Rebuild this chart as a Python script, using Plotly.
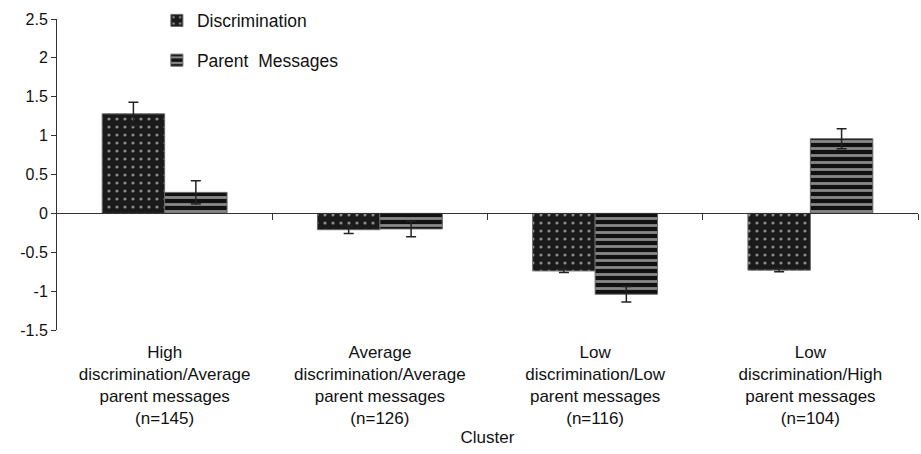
import plotly.graph_objects as go

categories = [
    "High<br>discrimination/Average<br>parent messages<br>(n=145)",
    "Average<br>discrimination/Average<br>parent messages<br>(n=126)",
    "Low<br>discrimination/Low<br>parent messages<br>(n=116)",
    "Low<br>discrimination/High<br>parent messages<br>(n=104)",
]
discrimination = [1.28, -0.21, -0.74, -0.73]
discrimination_err = [0.15, 0.05, 0.02, 0.02]
parent_messages = [0.27, -0.20, -1.04, 0.96]
parent_messages_err = [0.15, 0.10, 0.10, 0.13]
y_ticks = [-1.5, -1, -0.5, 0, 0.5, 1, 1.5, 2, 2.5]
y_ticktext = ["-1.5", "-1", "-0.5", "0", "0.5", "1", "1.5", "2", "2.5"]

FONT = "Liberation Sans, Arial, sans-serif"
n = len(categories)

fig = go.Figure()
fig.add_trace(go.Bar(
    name="Discrimination", x=categories, y=discrimination,
    legendgroup="a",
    marker=dict(color="#1a1a1a",
                line=dict(color="#666666", width=1),
                pattern=dict(shape=".", bgcolor="#1a1a1a", fgcolor="white",
                             size=8, solidity=0.12)),
    error_y=dict(type="data", array=discrimination_err, color="#222222",
                 thickness=1.5, width=5),
))
fig.add_trace(go.Bar(
    name="Parent  Messages", x=categories, y=parent_messages,
    legendgroup="b",
    marker=dict(color="#111111",
                line=dict(color="#666666", width=1),
                pattern=dict(shape="-", bgcolor="#111111", fgcolor="white",
                             size=7, solidity=0.4)),
    error_y=dict(type="data", array=parent_messages_err, color="#222222",
                 thickness=1.5, width=5),
))
# invisible trace for the axis that crosses at zero
fig.add_trace(go.Scatter(x=[-0.5, n - 0.5], y=[0, 0], xaxis="x2", mode="lines",
                         line=dict(width=0), showlegend=False, hoverinfo="skip"))

ymin, ymax = -1.5, 2.5
fig.update_layout(
    width=921, height=454,
    paper_bgcolor="white", plot_bgcolor="white",
    margin=dict(l=57, r=3, t=19, b=124, autoexpand=False),
    barmode="group", bargap=0.42, bargroupgap=0,
    font=dict(family=FONT, size=17, color="#111111"),
    showlegend=True,
    legend=dict(x=0.116, y=1.053, xanchor="left", yanchor="top",
                bgcolor="rgba(0,0,0,0)", font=dict(size=17.5),
                traceorder="grouped", tracegroupgap=14),
    xaxis=dict(range=[-0.5, n - 0.5], showline=False, ticks="",
               showgrid=False, tickfont=dict(size=17), automargin=False,
               ticklabelstandoff=10,
               title=dict(text="Cluster", font=dict(size=17), standoff=2)),
    xaxis2=dict(overlaying="x", anchor="free",
                position=(0 - ymin) / (ymax - ymin),
                range=[-0.5, n - 0.5], showline=True, linecolor="#333333",
                linewidth=1, ticks="outside", ticklen=6, tickcolor="#333333",
                tickvals=[i + 0.5 for i in range(n)], showticklabels=False,
                showgrid=False, zeroline=False),
    yaxis=dict(range=[ymin, ymax], tickvals=y_ticks, ticktext=y_ticktext,
               showline=True, linecolor="#333333", linewidth=1,
               ticks="outside", ticklen=5, tickcolor="#333333",
               showgrid=False, zeroline=False, tickfont=dict(size=16),
               automargin=False),
)

fig.write_html("out.html",
               config={"displayModeBar": False},
               post_script="document.body.style.margin='0';document.body.style.overflow='hidden';")
